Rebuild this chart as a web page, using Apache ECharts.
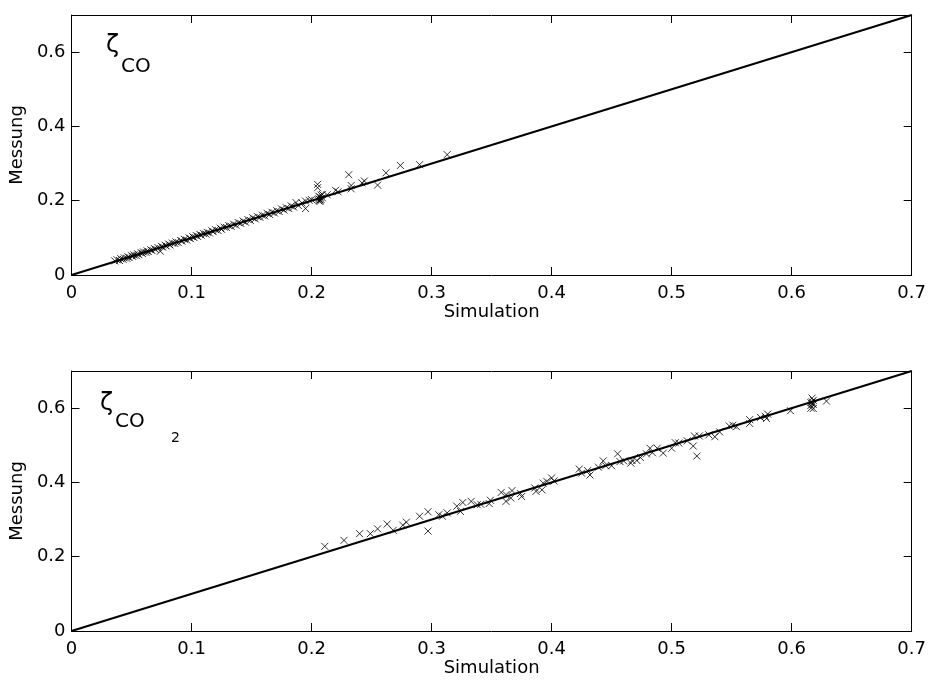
<!DOCTYPE html>
<html>
<head>
<meta charset="utf-8">
<script src="https://cdn.jsdelivr.net/npm/echarts@6/dist/echarts.min.js"></script>
<style>
  html, body { margin: 0; padding: 0; background: #fff; }
  #chart { width: 929px; height: 686px; }
</style>
</head>
<body>
<div id="chart"></div>
<script>
// Axis ticks shared by both panels
const xTicks = [0, 0.1, 0.2, 0.3, 0.4, 0.5, 0.6, 0.7];
const yTicks = [0, 0.2, 0.4, 0.6];
const axisRange = [0, 0.7];

// Parity line (simulation == measurement)
const diagonal = [0, 0.7];

// CO: [simulation, measurement]
const coPoints = [
  [0.036,0.038],[0.038,0.041],[0.040,0.039],[0.041,0.044],[0.043,0.042],[0.044,0.046],
  [0.046,0.045],[0.047,0.049],[0.048,0.047],[0.050,0.052],[0.051,0.050],[0.052,0.054],
  [0.054,0.052],[0.055,0.057],[0.056,0.055],[0.058,0.060],[0.059,0.058],[0.060,0.062],
  [0.062,0.061],[0.063,0.065],[0.064,0.063],[0.066,0.068],[0.067,0.066],[0.069,0.071],
  [0.070,0.069],[0.072,0.074],[0.074,0.064],[0.075,0.077],[0.076,0.075],[0.078,0.080],
  [0.079,0.078],[0.081,0.083],[0.082,0.081],[0.084,0.086],[0.086,0.085],[0.087,0.089],
  [0.089,0.087],[0.091,0.093],[0.092,0.091],[0.094,0.096],[0.096,0.094],[0.098,0.100],
  [0.099,0.098],[0.101,0.103],[0.102,0.101],[0.104,0.106],[0.105,0.104],[0.107,0.109],
  [0.108,0.107],[0.110,0.112],[0.112,0.110],[0.113,0.115],[0.115,0.113],[0.117,0.119],
  [0.118,0.117],[0.120,0.122],[0.122,0.120],[0.124,0.126],[0.125,0.123],[0.127,0.129],
  [0.129,0.128],[0.131,0.133],[0.133,0.131],[0.135,0.137],[0.137,0.134],[0.139,0.141],
  [0.141,0.139],[0.143,0.145],[0.145,0.142],[0.147,0.149],[0.149,0.147],[0.151,0.154],
  [0.153,0.151],[0.155,0.157],[0.157,0.155],[0.159,0.161],[0.161,0.159],[0.163,0.166],
  [0.165,0.163],[0.167,0.169],[0.169,0.167],[0.171,0.173],[0.173,0.171],[0.175,0.178],
  [0.177,0.175],[0.179,0.181],[0.181,0.179],[0.183,0.186],[0.185,0.183],[0.187,0.195],
  [0.189,0.187],[0.192,0.194],[0.195,0.179],[0.195,0.199],[0.198,0.201],[0.200,0.203],
  [0.205,0.244],[0.205,0.235],[0.206,0.200],[0.206,0.205],[0.207,0.210],[0.207,0.198],
  [0.208,0.215],[0.208,0.203],[0.209,0.208],[0.209,0.217],[0.206,0.212],[0.207,0.202],
  [0.213,0.216],[0.220,0.228],[0.222,0.224],[0.231,0.270],[0.233,0.241],[0.233,0.232],
  [0.242,0.248],[0.244,0.253],[0.255,0.242],[0.262,0.275],[0.274,0.295],[0.290,0.297],
  [0.313,0.324]
];

// CO2: [simulation, measurement]
const co2Points = [
  [0.211,0.228],[0.227,0.244],[0.240,0.262],[0.249,0.262],[0.255,0.275],[0.263,0.288],
  [0.268,0.271],[0.276,0.285],[0.279,0.293],[0.290,0.309],[0.297,0.321],[0.297,0.269],
  [0.306,0.313],[0.309,0.309],[0.313,0.318],[0.321,0.336],[0.324,0.322],[0.326,0.346],
  [0.333,0.349],[0.338,0.340],[0.341,0.341],[0.348,0.343],[0.349,0.352],[0.358,0.373],
  [0.362,0.367],[0.362,0.349],[0.366,0.358],[0.367,0.378],[0.374,0.370],[0.375,0.362],
  [0.386,0.385],[0.387,0.376],[0.392,0.380],[0.393,0.398],[0.396,0.403],[0.400,0.412],
  [0.402,0.404],[0.423,0.436],[0.425,0.425],[0.430,0.432],[0.432,0.420],[0.439,0.441],
  [0.443,0.458],[0.445,0.445],[0.450,0.445],[0.455,0.477],[0.457,0.456],[0.460,0.458],
  [0.466,0.452],[0.467,0.459],[0.471,0.459],[0.474,0.467],[0.479,0.477],[0.482,0.492],
  [0.484,0.480],[0.488,0.492],[0.493,0.479],[0.500,0.492],[0.503,0.507],[0.506,0.506],
  [0.513,0.512],[0.518,0.498],[0.521,0.471],[0.519,0.525],[0.523,0.525],[0.531,0.528],
  [0.536,0.523],[0.540,0.536],[0.548,0.552],[0.551,0.554],[0.554,0.550],[0.565,0.569],
  [0.565,0.559],[0.574,0.575],[0.578,0.578],[0.579,0.572],[0.580,0.584],[0.599,0.593],
  [0.616,0.600],[0.616,0.607],[0.617,0.612],[0.617,0.617],[0.618,0.621],[0.617,0.627],
  [0.616,0.615],[0.618,0.610],[0.618,0.599],[0.629,0.619]
];

const FONT = 'DejaVu Sans';
const crossSymbol = 'path://M0,0L10,10M10,0L0,10';

function fmtTick(list) {
  return v => {
    const t = list.find(t => Math.abs(t - v) < 1e-9);
    if (t === undefined) return '';
    return t === 0 ? '0' : t.toFixed(1);
  };
}

function xAxisFor(grid, mirror) {
  return {
    type: 'value', gridIndex: grid, position: mirror ? 'top' : 'bottom',
    min: axisRange[0], max: axisRange[1], interval: 0.1,
    name: mirror ? '' : 'Simulation', nameLocation: 'middle', nameGap: 21,
    nameTextStyle: { fontFamily: FONT, fontSize: 18, color: '#000' },
    axisLine: { show: true, onZero: false, lineStyle: { color: '#000', width: 1 } },
    axisTick: { show: true, inside: true, length: 8, lineStyle: { color: '#000' } },
    axisLabel: { show: !mirror, margin: 9, fontFamily: FONT, fontSize: 18, color: '#000',
                 formatter: fmtTick(xTicks) },
    splitLine: { show: false }
  };
}

function yAxisFor(grid, mirror) {
  return {
    type: 'value', gridIndex: grid, position: mirror ? 'right' : 'left',
    min: axisRange[0], max: axisRange[1], interval: 0.2,
    name: mirror ? '' : 'Messung', nameLocation: 'middle', nameGap: 34,
    nameTextStyle: { fontFamily: FONT, fontSize: 18, color: '#000' },
    axisLine: { show: true, onZero: false, lineStyle: { color: '#000', width: 1 } },
    axisTick: { show: true, inside: true, length: 8, lineStyle: { color: '#000' } },
    axisLabel: { show: !mirror, margin: 6, fontFamily: FONT, fontSize: 18, color: '#000',
                 formatter: fmtTick(yTicks) },
    splitLine: { show: false }
  };
}

function scatterSeries(idx, data) {
  return {
    type: 'scatter', xAxisIndex: idx * 2, yAxisIndex: idx * 2, data: data,
    symbol: crossSymbol, symbolSize: 7, silent: true, z: 2,
    itemStyle: { color: 'none', borderColor: '#000', borderWidth: 1 }
  };
}

function diagSeries(idx) {
  return {
    type: 'line', xAxisIndex: idx * 2, yAxisIndex: idx * 2,
    data: diagonal.map(v => [v, v]), showSymbol: false, silent: true, z: 3,
    lineStyle: { color: '#000', width: 2 }
  };
}

const chart = echarts.init(document.getElementById('chart'), null, { renderer: 'canvas' });
chart.setOption({
  animation: false,
  backgroundColor: '#fff',
  grid: [
    { left: 71, right: 17, top: 15, height: 260 },
    { left: 71, right: 17, top: 371, height: 260 }
  ],
  xAxis: [xAxisFor(0, false), xAxisFor(0, true), xAxisFor(1, false), xAxisFor(1, true)],
  yAxis: [yAxisFor(0, false), yAxisFor(0, true), yAxisFor(1, false), yAxisFor(1, true)],
  series: [
    scatterSeries(0, coPoints), diagSeries(0),
    scatterSeries(1, co2Points), diagSeries(1)
  ],
  graphic: [
    { type: 'text', left: 106, top: 34, style: { text: 'ζ', font: '24px "DejaVu Sans"', fill: '#000' } },
    { type: 'text', left: 121, top: 57, style: { text: 'CO', font: '20px "DejaVu Sans"', fill: '#000' } },
    { type: 'text', left: 100, top: 392, style: { text: 'ζ', font: '24px "DejaVu Sans"', fill: '#000' } },
    { type: 'text', left: 115, top: 412, style: { text: 'CO', font: '20px "DejaVu Sans"', fill: '#000' } },
    { type: 'text', left: 171, top: 431, style: { text: '2', font: '14px "DejaVu Sans"', fill: '#000' } }
  ]
});
</script>
</body>
</html>
